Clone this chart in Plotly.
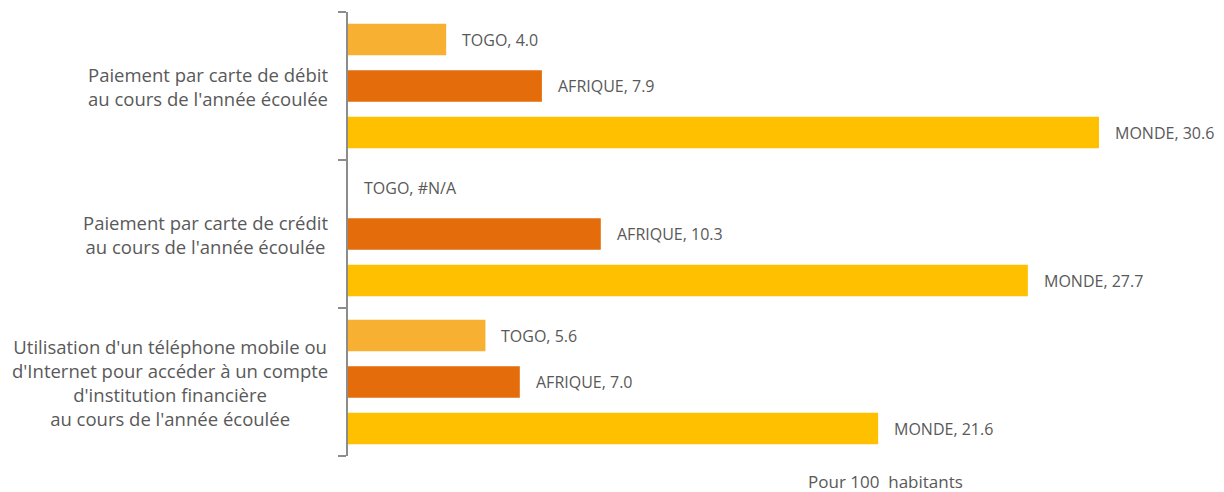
import plotly.graph_objects as go

categories = [
    "Paiement par carte de débit<br>au cours de l'année écoulée",
    "Paiement par carte de crédit<br>au cours de l'année écoulée",
    "Utilisation d'un téléphone mobile ou<br>d'Internet pour accéder à un compte<br>d'institution financière<br>au cours de l'année écoulée",
]
series_names = ["TOGO", "AFRIQUE", "MONDE"]
togo = [4.0, None, 5.6]
afrique = [7.9, 10.3, 7.0]
monde = [30.6, 27.7, 21.6]
colors = ["#F7B032", "#E46C0A", "#FFC000"]
axis_title = "Pour 100  habitants"

cat_pos = list(range(len(categories)))
boundaries = [p - 0.5 for p in cat_pos] + [cat_pos[-1] + 0.5]

fig = go.Figure()
annotations = []
for name, vals, col in zip(series_names, [togo, afrique, monde], colors):
    fig.add_trace(go.Bar(
        y=cat_pos, x=[v if v is not None else 0 for v in vals], name=name,
        orientation="h", marker=dict(color=col, line=dict(width=0)),
        hoverinfo="skip",
    ))
for ti, (name, vals) in enumerate(zip(series_names, [togo, afrique, monde])):
    for ci, v in enumerate(vals):
        txt = f"{name}, {v:.1f}" if v is not None else f"{name}, #N/A"
        annotations.append(dict(
            x=v if v is not None else 0, y=cat_pos[ci], xref="x", yref="y",
            text=txt, showarrow=False, xanchor="left", xshift=14,
            yshift=(1 - ti) * 46.5,
            font=dict(family="Open Sans", size=16, color="#595959"),
        ))
for ci, c in enumerate(categories):
    annotations.append(dict(
        x=0, y=cat_pos[ci], xref="paper", yref="y", text=c, showarrow=False,
        xanchor="right", align="center", xshift=-18,
        font=dict(family="Open Sans", size=18.5, color="#595959"),
    ))
annotations.append(dict(
    x=(885 - 348) / (1207 - 348), xref="paper", y=-(481 - 456) / 444, yref="paper",
    yanchor="middle", text=axis_title, showarrow=False,
    font=dict(family="Open Sans", size=17, color="#595959"),
))

fig.update_layout(
    width=1224, height=492,
    margin=dict(l=348, r=17, t=12, b=36),
    plot_bgcolor="white", paper_bgcolor="white",
    barmode="group", bargap=0.057, bargroupgap=0.32,
    showlegend=False,
    annotations=annotations,
    xaxis=dict(range=[0, 35], showgrid=False, showticklabels=False, zeroline=False,
               showline=False, ticks="", automargin=False),
    yaxis=dict(range=[boundaries[-1], boundaries[0]], tickmode="array", tickvals=boundaries,
               showticklabels=False, showgrid=False, zeroline=False, showline=True,
               linecolor="#8C8C8C", linewidth=2, ticks="outside", ticklen=8,
               tickcolor="#8C8C8C", tickwidth=2, automargin=False),
)
fig.write_html("out.html", post_script="document.body.style.margin='0';",
               config={"displayModeBar": False})
